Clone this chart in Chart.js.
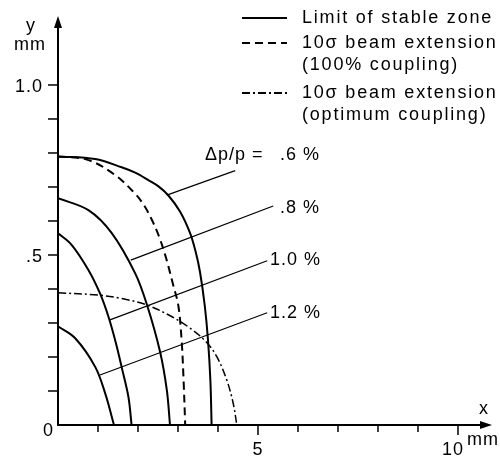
<!DOCTYPE html>
<html>
<head>
<meta charset="utf-8">
<script src="https://cdn.jsdelivr.net/npm/chart.js@4.4.0/dist/chart.umd.min.js"></script>
<style>
  html, body { margin: 0; padding: 0; background: #fff; }
</style>
</head>
<body>
<canvas id="stableZone" width="500" height="460"></canvas>
<script>
// limit of stable zone, one curve per momentum spread (x, y in mm)
const dp06X = [0, 0.93, 1.59, 1.93, 2.26, 2.52, 2.76, 3.05, 3.30, 3.44, 3.55, 3.67, 3.75, 3.81, 3.84];
const dp06Y = [0.79, 0.782, 0.758, 0.742, 0.72, 0.701, 0.675, 0.628, 0.565, 0.51, 0.45, 0.35, 0.25, 0.13, 0];
const dp08X = [0, 0.76, 1.34, 1.93, 2.22, 2.55, 2.72, 2.80];
const dp08Y = [0.667, 0.632, 0.565, 0.446, 0.355, 0.216, 0.103, 0];
const dp10X = [0, 0.34, 0.76, 1.05, 1.26, 1.45, 1.59, 1.76, 1.84];
const dp10Y = [0.564, 0.53, 0.456, 0.387, 0.319, 0.24, 0.171, 0.083, 0];
const dp12X = [0, 0.43, 0.93, 1.18, 1.40];
const dp12Y = [0.29, 0.255, 0.171, 0.093, 0];

// 10 sigma beam extension
const full100X = [0, 0.76, 1.43, 1.93, 2.14, 2.34, 2.52, 2.68, 2.88, 3.01, 3.09, 3.14, 3.18];
const full100Y = [0.79, 0.779, 0.735, 0.68, 0.648, 0.605, 0.556, 0.50, 0.412, 0.35, 0.25, 0.13, 0];
const optX = [0, 1.01, 1.59, 2.22, 2.84, 3.30, 3.70, 3.97, 4.22, 4.38, 4.47];
const optY = [0.389, 0.382, 0.372, 0.353, 0.319, 0.285, 0.245, 0.201, 0.132, 0.064, 0];

// pointer lines from the Δp/p labels to their curves
const pointerLabels = ['.6 %', '.8 %', '1.0 %', '1.2 %'];
const pointerX = [[2.72, 4.43], [1.82, 5.38], [1.30, 5.23], [1.05, 5.23]];
const pointerY = [[0.676, 0.748], [0.485, 0.644], [0.309, 0.483], [0.147, 0.33]];

// axes
const xTicks = [1, 2, 3, 4, 5, 6, 7, 8, 9, 10];
const xTickLabels = { 5: '5', 10: '10' };
const yTicks = [0.1, 0.2, 0.3, 0.4, 0.5, 0.6, 0.7, 0.8, 0.9, 1.0];
const yTickLabels = { 0.5: '.5', 1.0: '1.0' };

const legendLabels = ['Limit of stable zone', '10σ beam extension', '(100% coupling)', '10σ beam extension', '(optimum coupling)'];

function pts(xs, ys) {
  return xs.map((x, i) => ({ x: x, y: ys[i] }));
}

const FONT = '18px "Liberation Sans", Arial, sans-serif';

const curve = (data, extra) => Object.assign({
  data: data,
  borderColor: '#000',
  borderWidth: 2,
  pointRadius: 0,
  fill: false,
  tension: 0.35
}, extra || {});

const datasets = [
  curve(pts(dp06X, dp06Y), { label: 'Limit of stable zone' }),
  curve(pts(dp08X, dp08Y)),
  curve(pts(dp10X, dp10Y)),
  curve(pts(dp12X, dp12Y)),
  curve(pts(full100X, full100Y), { label: '10σ beam extension (100% coupling)', borderDash: [8, 5], borderWidth: 2 }),
  curve(pts(optX, optY), { label: '10σ beam extension (optimum coupling)', borderDash: [8, 3, 2, 3], borderWidth: 1.5 })
];
pointerX.forEach((xs, i) => {
  datasets.push({
    data: pts(xs, pointerY[i]),
    borderColor: '#000',
    borderWidth: 1.2,
    pointRadius: 0,
    tension: 0
  });
});

const decorations = {
  id: 'decorations',
  afterDraw(chart) {
    const ctx = chart.ctx;
    const xs = chart.scales.x, ys = chart.scales.y;
    const a = chart.chartArea;
    const x0 = xs.getPixelForValue(0), y0 = ys.getPixelForValue(0);
    ctx.save();
    ctx.strokeStyle = '#000';
    ctx.fillStyle = '#000';
    ctx.lineWidth = 2;

    // axes
    ctx.beginPath();
    ctx.moveTo(x0, a.top + 2);
    ctx.lineTo(x0, y0);
    ctx.lineTo(a.right - 2, y0);
    ctx.stroke();
    // arrow heads
    ctx.beginPath();
    ctx.moveTo(x0, a.top - 2);
    ctx.lineTo(x0 - 4, a.top + 10);
    ctx.lineTo(x0 + 4, a.top + 10);
    ctx.closePath();
    ctx.fill();
    ctx.beginPath();
    ctx.moveTo(a.right + 2, y0);
    ctx.lineTo(a.right - 10, y0 - 4);
    ctx.lineTo(a.right - 10, y0 + 4);
    ctx.closePath();
    ctx.fill();

    // ticks
    ctx.lineWidth = 1.5;
    xTicks.forEach(v => {
      const px = xs.getPixelForValue(v);
      ctx.beginPath();
      ctx.moveTo(px, y0);
      ctx.lineTo(px, y0 + (xTickLabels[v] ? 10 : 7));
      ctx.stroke();
    });
    yTicks.forEach(v => {
      const py = ys.getPixelForValue(v);
      ctx.beginPath();
      ctx.moveTo(x0, py);
      ctx.lineTo(x0 - 10, py);
      ctx.stroke();
    });

    ctx.font = FONT;
    ctx.letterSpacing = '1px';
    ctx.textBaseline = 'middle';
    // tick labels
    ctx.textAlign = 'right';
    yTicks.forEach(v => {
      if (yTickLabels[v]) ctx.fillText(yTickLabels[v], x0 - 15, ys.getPixelForValue(v) + 2);
    });
    ctx.fillText('0', x0 - 4, y0 + 6);
    ctx.textAlign = 'center';
    xTicks.forEach(v => {
      if (xTickLabels[v]) ctx.fillText(xTickLabels[v], xs.getPixelForValue(v) - (v === 10 ? 5 : 0), y0 + 25);
    });

    // axis titles
    ctx.fillText('y', x0 - 27, a.top + 8);
    ctx.fillText('mm', x0 - 28, a.top + 27);
    ctx.fillText('x', a.right - 6, y0 - 16);
    ctx.fillText('mm', a.right - 7, y0 + 15);

    // Δp/p labels
    ctx.textAlign = 'left';
    ctx.fillText('Δp/p =', 205, 155);
    const labelPos = [[280, 155], [280, 208], [270, 260], [270, 313]];
    pointerLabels.forEach((t, i) => ctx.fillText(t, labelPos[i][0], labelPos[i][1]));

    // legend
    ctx.letterSpacing = '1.8px';
    const rows = [18, 43, 65, 93, 115];
    legendLabels.forEach((t, i) => ctx.fillText(t, 302, rows[i]));
    ctx.lineWidth = 2;
    [[rows[0], []], [rows[1], [8, 5]], [rows[3], [8, 3, 2, 3]]].forEach(r => {
      ctx.setLineDash(r[1]);
      ctx.beginPath();
      ctx.moveTo(242, r[0]);
      ctx.lineTo(287, r[0]);
      ctx.stroke();
    });
    ctx.restore();
  }
};

new Chart(document.getElementById('stableZone'), {
  type: 'line',
  data: { datasets: datasets },
  options: {
    responsive: false,
    animation: false,
    layout: { padding: { left: 58, right: 10, top: 18, bottom: 35 } },
    plugins: { legend: { display: false }, tooltip: { enabled: false } },
    scales: {
      x: { type: 'linear', min: 0, max: 10.8, display: false },
      y: { type: 'linear', min: 0, max: 1.197, display: false }
    }
  },
  plugins: [decorations]
});
</script>
</body>
</html>
